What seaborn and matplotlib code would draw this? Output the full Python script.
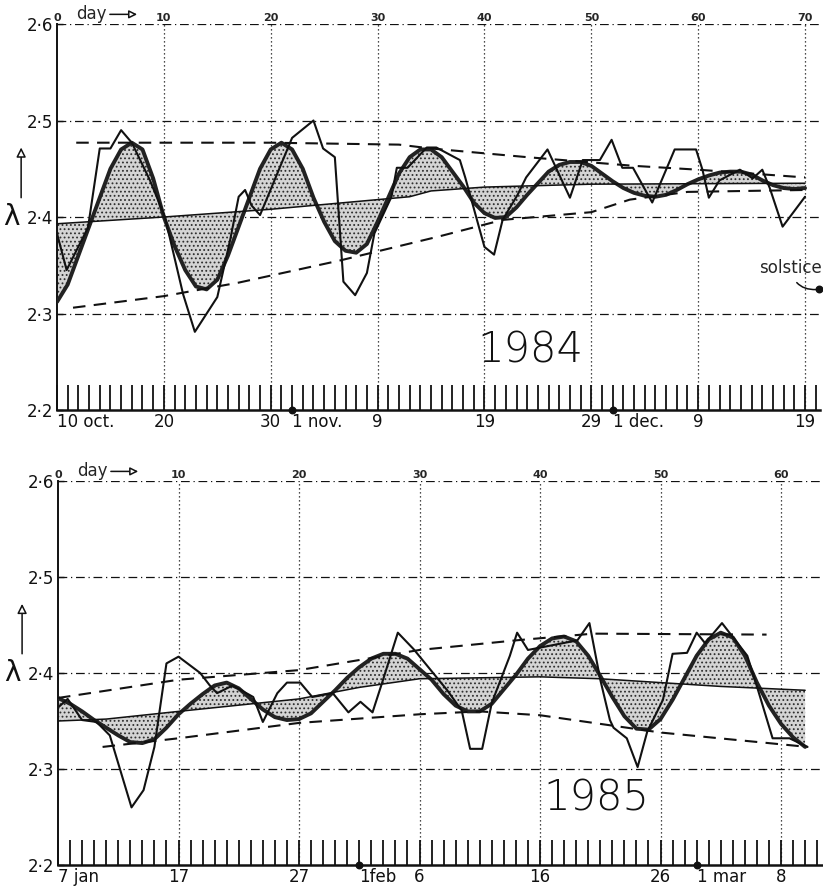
import matplotlib
matplotlib.use("Agg")
import matplotlib.pyplot as plt
import numpy as np
import seaborn as sns

sns.set_style("white")
plt.rcParams["font.family"] = ["DejaVu Sans"]
plt.rcParams["hatch.color"] = "#2e2e2e"
plt.rcParams["hatch.linewidth"] = 0.8

# ---------------- 1984 panel (day 0 = 10 oct.) ----------------
raw84_day = [0, 0.9, 2.9, 4.0, 5.0, 6.0, 7.0, 8.7, 10.1, 11.8, 12.9, 15.0, 16.2, 17.0,
             17.6, 18.2, 19.0, 22.0, 24.0, 24.9, 26.0, 26.8, 27.9, 29.0, 29.7, 31.3,
             31.8, 32.8, 34.6, 35.5, 37.7, 38.2, 40.0, 40.9, 41.7, 43.1, 43.9, 45.9,
             48.0, 49.2, 50.8, 51.9, 52.9, 53.9, 55.7, 57.8, 59.8, 60.4, 61.0, 62.0,
             63.9, 65.1, 66.0, 66.7, 67.9, 70.0]
raw84_val = [2.383, 2.345, 2.389, 2.471, 2.471, 2.490, 2.477, 2.438, 2.400, 2.320, 2.281,
             2.317, 2.376, 2.421, 2.428, 2.412, 2.402, 2.482, 2.500, 2.471, 2.462, 2.333,
             2.319, 2.342, 2.383, 2.421, 2.451, 2.451, 2.472, 2.472, 2.459, 2.441, 2.369,
             2.361, 2.397, 2.423, 2.441, 2.470, 2.420, 2.459, 2.459, 2.480, 2.451, 2.451,
             2.415, 2.470, 2.470, 2.449, 2.420, 2.438, 2.449, 2.440, 2.449, 2.430, 2.390,
             2.421]

smooth84_day = list(range(0, 71))
smooth84_val = [2.312, 2.330, 2.360, 2.390, 2.420, 2.450, 2.470, 2.477, 2.470, 2.440,
                2.400, 2.370, 2.345, 2.328, 2.325, 2.335, 2.360, 2.390, 2.420, 2.450,
                2.470, 2.477, 2.470, 2.450, 2.420, 2.395, 2.375, 2.365, 2.363, 2.372,
                2.395, 2.420, 2.445, 2.462, 2.470, 2.470, 2.462, 2.447, 2.432, 2.415,
                2.404, 2.399, 2.400, 2.410, 2.423, 2.435, 2.447, 2.454, 2.457, 2.457,
                2.453, 2.445, 2.437, 2.430, 2.425, 2.422, 2.421, 2.423, 2.428, 2.434,
                2.439, 2.443, 2.446, 2.447, 2.447, 2.444, 2.438, 2.433, 2.430, 2.429,
                2.430]

base84_day = [0, 10, 20, 30, 33, 35, 40, 50, 70]
base84_val = [2.393, 2.400, 2.408, 2.418, 2.421, 2.427, 2.431, 2.434, 2.435]

upper84_day = [1.8, 10, 20, 32, 35, 44, 54, 60, 70]
upper84_val = [2.477, 2.477, 2.477, 2.475, 2.471, 2.462, 2.453, 2.449, 2.441]

lower84_day = [1.5, 10, 17, 26.5, 35.8, 41.7, 50, 53.6, 59, 70]
lower84_val = [2.306, 2.318, 2.332, 2.355, 2.380, 2.397, 2.405, 2.418, 2.426, 2.428]

ticks84_day = [0, 10, 20, 22, 30, 40, 50, 52, 60, 70]
ticks84_lab = ["10 oct.", "20", "30", "1 nov.", "9", "19", "29", "1 dec.", "9", "19"]
month84_day = [22, 52]

# ---------------- 1985 panel (day 0 = 7 jan) ----------------
raw85_day = [0, 0.8, 2.0, 3.2, 4.3, 6.1, 7.1, 8.0, 9.0, 10.0, 11.8, 12.6, 13.2, 14.5,
             16.2, 17.0, 18.2, 19.0, 20.1, 21.1, 22.8, 24.1, 25.1, 26.1, 26.9, 27.6,
             28.2, 29.5, 32.3, 33.5, 34.2, 35.2, 36.0, 37.5, 38.1, 39.0, 43.1, 44.1,
             45.0, 45.8, 46.1, 47.2, 48.1, 48.9, 50.2, 51.0, 52.2, 53.0, 53.7, 55.1,
             57.2, 58.0, 59.3, 60.7, 62.2]
raw85_val = [2.364, 2.373, 2.351, 2.349, 2.335, 2.260, 2.278, 2.323, 2.410, 2.417, 2.400,
             2.387, 2.379, 2.387, 2.375, 2.349, 2.379, 2.390, 2.390, 2.375, 2.379, 2.359,
             2.370, 2.359, 2.390, 2.418, 2.442, 2.425, 2.382, 2.361, 2.321, 2.321, 2.369,
             2.418, 2.442, 2.424, 2.434, 2.452, 2.393, 2.351, 2.343, 2.332, 2.302, 2.339,
             2.372, 2.420, 2.421, 2.442, 2.431, 2.452, 2.418, 2.386, 2.332, 2.332, 2.323]

smooth85_day = list(range(0, 63))
smooth85_val = [2.374, 2.368, 2.360, 2.351, 2.343, 2.335, 2.328, 2.327, 2.331, 2.343,
                2.357, 2.368, 2.378, 2.387, 2.390, 2.384, 2.373, 2.362, 2.354, 2.351,
                2.352, 2.358, 2.370, 2.382, 2.395, 2.406, 2.415, 2.420, 2.420, 2.415,
                2.404, 2.393, 2.378, 2.366, 2.360, 2.360, 2.368, 2.383, 2.398, 2.415,
                2.428, 2.436, 2.438, 2.433, 2.418, 2.397, 2.375, 2.355, 2.342, 2.341,
                2.352, 2.372, 2.395, 2.418, 2.435, 2.442, 2.437, 2.418, 2.390, 2.366,
                2.347, 2.333, 2.323]

base85_day = [0, 4, 10, 20, 25, 30, 40, 45, 55, 62]
base85_val = [2.350, 2.352, 2.360, 2.373, 2.385, 2.394, 2.396, 2.394, 2.386, 2.382]

upper85_day = [0, 10, 20, 30, 38, 44.4, 58.8]
upper85_val = [2.374, 2.393, 2.403, 2.424, 2.434, 2.441, 2.440]

lower85_day = [3.7, 10, 20, 30, 35, 40, 50, 62.2]
lower85_val = [2.323, 2.332, 2.348, 2.357, 2.360, 2.356, 2.338, 2.323]

ticks85_day = [0, 10, 20, 25, 30, 40, 50, 53, 60]
ticks85_lab = ["7 jan", "17", "27", "1feb", "6", "16", "26", "1 mar", "8"]
month85_day = [25, 53]

y_ticks = [2.2, 2.3, 2.4, 2.5, 2.6]
y_labels = ["2·2", "2·3", "2·4", "2·5", "2·6"]

solstice_day, solstice_val = 71.3, 2.325

INK = "#111111"


def draw_panel(ax, raw_d, raw_v, sm_d, sm_v, b_d, b_v, up_d, up_v, lo_d, lo_v,
               xmax, last_grid, tick_d, tick_l, month_d, year, year_xy):
    ax.set_xlim(0, xmax)
    ax.set_ylim(2.2, 2.6)

    # grid: dotted verticals every 10 days, dash-dot horizontals
    for g in range(10, last_grid + 1, 10):
        ax.axvline(g, color=INK, lw=0.9, ls=(0, (1, 2.2)), zorder=1)
    for h in [2.3, 2.4, 2.5, 2.6]:
        ax.axhline(h, color=INK, lw=0.9, ls=(0, (7, 3, 1, 3)), zorder=1)

    # stippled area between the smooth curve and its trend line
    base_on_sm = np.interp(sm_d, b_d, b_v)
    ax.fill_between(sm_d, sm_v, base_on_sm, interpolate=True, facecolor="#d4d4d4",
                    hatch="....", edgecolor="#2e2e2e", linewidth=0, zorder=2)

    sns.lineplot(x=sm_d, y=sm_v, ax=ax, color="#222222", lw=2.8, estimator=None,
                 sort=False, zorder=3)
    sns.lineplot(x=b_d, y=b_v, ax=ax, color=INK, lw=1.1, estimator=None,
                 sort=False, zorder=3)
    sns.lineplot(x=up_d, y=up_v, ax=ax, color=INK, lw=1.5, linestyle=(0, (6, 4)),
                 estimator=None, sort=False, zorder=3)
    sns.lineplot(x=lo_d, y=lo_v, ax=ax, color=INK, lw=1.5, linestyle=(0, (6, 4)),
                 estimator=None, sort=False, zorder=3)
    sns.lineplot(x=raw_d, y=raw_v, ax=ax, color=INK, lw=1.5, estimator=None,
                 sort=False, zorder=4)

    # axes look
    sns.despine(ax=ax, top=True, right=True)
    ax.spines["left"].set_linewidth(1.4)
    ax.spines["bottom"].set_linewidth(1.8)
    ax.spines["left"].set_color(INK)
    ax.spines["bottom"].set_color(INK)

    ax.set_yticks(y_ticks)
    ax.set_yticklabels(y_labels, fontsize=12)
    ax.tick_params(axis="y", left=True, direction="in", length=4, width=1, pad=3,
                   colors=INK)

    # one tick per day along the bottom
    ax.xaxis.set_minor_locator(matplotlib.ticker.MultipleLocator(1))
    ax.set_xticks(tick_d)
    ax.set_xticklabels(tick_l, fontsize=12)
    ax.tick_params(axis="x", which="both", bottom=True, direction="in", length=18,
                   width=1.3, pad=2, colors=INK)
    for lab, d in zip(ax.get_xticklabels(), tick_d):
        if d == 0 or d in month_d:
            lab.set_ha("left")
    ax.scatter(month_d, [2.2] * len(month_d), s=22, color=INK, zorder=5, clip_on=False)

    # top day scale
    top = ax.secondary_xaxis("top")
    top.set_xticks(list(range(0, last_grid + 1, 10)))
    top.set_xticklabels([str(v) for v in range(0, last_grid + 1, 10)], fontsize=8,
                        fontweight="bold")
    top.tick_params(length=0, pad=1)
    for s in top.spines.values():
        s.set_visible(False)
    ax.annotate("day", xy=(0.105, 1.025), xytext=(0.025, 1.025),
                xycoords="axes fraction", textcoords="axes fraction", fontsize=12,
                va="center", ha="left",
                arrowprops=dict(arrowstyle="-|>", color=INK, fc="white", lw=1.1,
                                shrinkA=0, shrinkB=0))

    # lambda label with arrow
    ax.annotate("", xy=(-0.047, 0.68), xytext=(-0.047, 0.55), xycoords="axes fraction",
                arrowprops=dict(arrowstyle="-|>", color=INK, fc="white", lw=1.1,
                                shrinkA=0, shrinkB=0, mutation_scale=14))
    ax.text(-0.06, 0.5, "λ", transform=ax.transAxes, fontsize=20, ha="center",
            va="center", color=INK)

    ax.text(year_xy[0], year_xy[1], year, fontsize=30, ha="center", va="center",
            color=INK, fontweight="light")


fig = plt.figure(figsize=(8.23, 8.92), dpi=100)
ax1 = fig.add_axes([57 / 823, 1 - 410 / 892, 763 / 823, 386 / 892])
ax2 = fig.add_axes([58 / 823, 1 - 865 / 892, 764 / 823, 384 / 892])

draw_panel(ax1, raw84_day, raw84_val, smooth84_day, smooth84_val, base84_day, base84_val,
           upper84_day, upper84_val, lower84_day, lower84_val, 71.4, 70,
           ticks84_day, ticks84_lab, month84_day, "1984", (44.3, 2.262))
draw_panel(ax2, raw85_day, raw85_val, smooth85_day, smooth85_val, base85_day, base85_val,
           upper85_day, upper85_val, lower85_day, lower85_val, 63.4, 60,
           ticks85_day, ticks85_lab, month85_day, "1985", (44.7, 2.27))

ax1.scatter([solstice_day], [solstice_val], s=22, color=INK, zorder=5, clip_on=False)
ax1.annotate("solstice", xy=(solstice_day, solstice_val), xytext=(68.6, 2.347),
             fontsize=12, ha="center", va="center", annotation_clip=False,
             arrowprops=dict(arrowstyle="-", color=INK, lw=1.1, shrinkA=2, shrinkB=2,
                             connectionstyle="arc3,rad=0.45"))

fig.savefig("out.png", dpi=100)
